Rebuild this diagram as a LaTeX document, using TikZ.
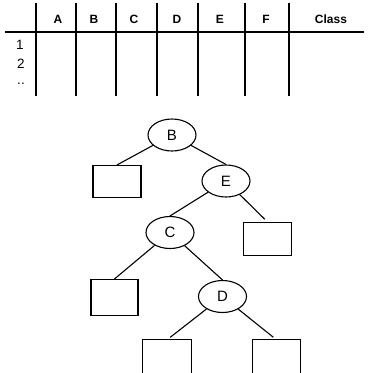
\documentclass[tikz,border=0pt]{standalone}
\usepackage{fontspec}
\setmainfont{Liberation Sans}
\usetikzlibrary{shapes.geometric}
\begin{document}
\begin{tikzpicture}[x=1pt,y=-1pt,
  rule/.style={line width=1.4pt,black},
  head/.style={font=\fontsize{12}{12}\selectfont\bfseries,inner sep=0pt},
  rowlab/.style={font=\fontsize{13.5}{13.5}\selectfont,inner sep=0pt},
  split/.style={ellipse,draw,line width=1.1pt,minimum width=48pt,minimum height=32pt,inner sep=0pt,font=\fontsize{15}{15}\selectfont},
  leaf/.style={rectangle,draw,line width=1.1pt,inner sep=0pt},
  openleaf/.style={rectangle,inner sep=0pt,minimum width=48pt,minimum height=50pt},
  edge/.style={line width=1.1pt}]
\useasboundingbox[fill=white] (0,0) rectangle (370,373);

% table rules
\draw[rule] (5,32) -- (364,32);
\foreach \x in {36,76,116,157,198,245,289}
  \draw[rule] (\x,3) -- (\x,96);

% column headings
\node[head] (hA) at (58,19) {A};
\node[head] (hB) at (94,19) {B};
\node[head] (hC) at (134,19) {C};
\node[head] (hD) at (177,19) {D};
\node[head] (hE) at (220,19) {E};
\node[head] (hF) at (266,19) {F};
\node[head] (hCl) at (331,19) {Class};

% row labels
\node[rowlab] (r1) at (20,45) {1};
\node[rowlab] (r2) at (21,64) {2};
\node[rowlab] (r3) at (21,84) {..};

% decision tree
\node[split] (B) at (172,135) {B};
\node[split] (E) at (226,181) {E};
\node[split] (C) at (170,232.5) {C};
\node[split] (D) at (222.5,296.5) {D};

\node[leaf,minimum width=48pt,minimum height=32pt] (L1) at (117,181.5) {};
\node[leaf,minimum width=48pt,minimum height=33pt] (R1) at (267.5,239) {};
\node[leaf,minimum width=47pt,minimum height=36pt] (L2) at (114.5,297.5) {};
\node[openleaf] (L3) at (167,365) {};
\node[openleaf] (R3) at (276.5,365) {};
\draw[edge] (L3.south west) -- (L3.north west) -- (L3.north east) -- (L3.south east);
\draw[edge] (R3.south west) -- (R3.north west) -- (R3.north east) -- (R3.south east);

\draw[edge] (B) -- (L1.north);
\draw[edge] (B) -- (E.north);
\draw[edge] (E) -- (C.north);
\draw[edge,shorten >=4pt] (E) -- (R1.north);
\draw[edge] (C) -- (L2.north);
\draw[edge] (C) -- (D.north);
\draw[edge,shorten >=4pt] (D) -- (L3.north);
\draw[edge,shorten >=4pt] (D) -- (R3.north);
\end{tikzpicture}
\end{document}
